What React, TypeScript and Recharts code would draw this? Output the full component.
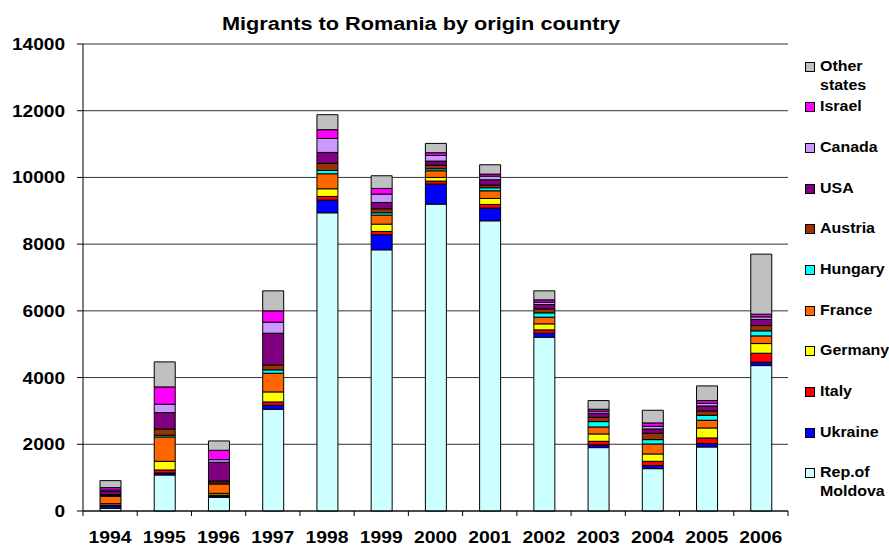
import React from 'react';
import { BarChart, Bar, XAxis, YAxis, CartesianGrid, Legend } from 'recharts';

const years = ['1994', '1995', '1996', '1997', '1998', '1999', '2000', '2001', '2002', '2003', '2004', '2005', '2006'];

const moldova = [80, 1080, 410, 3050, 8940, 7830, 9200, 8700, 5210, 1900, 1270, 1920, 4360];
const ukraine = [60, 60, 40, 120, 380, 450, 600, 380, 120, 80, 90, 100, 100];
const italy = [40, 90, 30, 100, 110, 100, 90, 110, 100, 110, 130, 170, 270];
const germany = [40, 260, 50, 300, 230, 220, 110, 180, 180, 220, 220, 300, 290];
const france = [220, 730, 280, 560, 450, 270, 200, 230, 200, 210, 300, 230, 230];
const hungary = [25, 50, 30, 100, 100, 70, 60, 90, 130, 160, 130, 150, 150];
const austria = [25, 190, 60, 150, 210, 120, 110, 80, 120, 130, 190, 130, 160];
const usa = [100, 490, 560, 950, 330, 190, 120, 160, 130, 120, 130, 150, 180];
const canada = [40, 250, 80, 330, 420, 250, 170, 110, 70, 60, 80, 80, 80];
const israel = [70, 520, 280, 340, 260, 170, 80, 60, 70, 60, 100, 80, 80];
const otherStates = [210, 750, 280, 600, 450, 380, 280, 280, 270, 260, 380, 440, 1800];

const yTicks = [0, 2000, 4000, 6000, 8000, 10000, 12000, 14000];
const title = 'Migrants to Romania by origin country';

const series = [
  { key: 'moldova', label: ['Rep.of', 'Moldova'], values: moldova, color: '#CCFFFF' },
  { key: 'ukraine', label: ['Ukraine'], values: ukraine, color: '#0000FF' },
  { key: 'italy', label: ['Italy'], values: italy, color: '#FF0000' },
  { key: 'germany', label: ['Germany'], values: germany, color: '#FFFF00' },
  { key: 'france', label: ['France'], values: france, color: '#FF6600' },
  { key: 'hungary', label: ['Hungary'], values: hungary, color: '#00FFFF' },
  { key: 'austria', label: ['Austria'], values: austria, color: '#993300' },
  { key: 'usa', label: ['USA'], values: usa, color: '#800080' },
  { key: 'canada', label: ['Canada'], values: canada, color: '#CC99FF' },
  { key: 'israel', label: ['Israel'], values: israel, color: '#FF00FF' },
  { key: 'other', label: ['Other', 'states'], values: otherStates, color: '#C0C0C0' },
];

const data = years.map((year, i) => {
  const row: Record<string, any> = { year };
  series.forEach((s) => {
    row[s.key] = s.values[i];
  });
  return row;
});

const FONT = '"Liberation Sans", Arial, sans-serif';

const YTick = (props: any) => {
  const { x, y, payload } = props;
  const s = String(payload.value);
  return (
    <text
      x={x}
      y={y}
      dy={6}
      textAnchor="end"
      fontFamily={FONT}
      fontWeight="bold"
      fontSize={16}
      fill="#000"
      textLength={s.length * 10.6}
      lengthAdjust="spacingAndGlyphs"
    >
      {s}
    </text>
  );
};

const XTick = (props: any) => {
  const { x, y, payload, index, width } = props;
  const band = (width || 705) / years.length;
  return (
    <g>
      <line x1={x - band / 2} x2={x - band / 2} y1={y} y2={y + 5} stroke="#000" strokeWidth={1} />
      {index === years.length - 1 && (
        <line x1={x + band / 2} x2={x + band / 2} y1={y} y2={y + 5} stroke="#000" strokeWidth={1} />
      )}
      <text
        x={x}
        y={y + 32}
        textAnchor="middle"
        fontFamily={FONT}
        fontWeight="bold"
        fontSize={16.5}
        fill="#000"
        textLength={43}
        lengthAdjust="spacingAndGlyphs"
      >
        {payload.value}
      </text>
    </g>
  );
};

const legendOrder = [...series].reverse();

const LegendContent = () => (
  <div style={{ position: 'relative', width: 889, height: 547 }}>
    {legendOrder.map((s, i) => {
      const top = 66 + i * 40.67 - 9.5;
      return (
        <div key={s.key} style={{ position: 'absolute', left: 805, top, height: 40 }}>
          <div
            style={{
              position: 'absolute',
              left: 0,
              top: 5,
              width: 8,
              height: 8,
              background: s.color,
              border: '1px solid #000',
            }}
          />
          <div
            style={{
              position: 'absolute',
              left: 15,
              top: 0,
              fontFamily: FONT,
              fontWeight: 'bold',
              fontSize: 14,
              lineHeight: '19px',
              color: '#000',
              whiteSpace: 'nowrap',
              transform: 'scaleX(1.14)',
              transformOrigin: 'left top',
            }}
          >
            {s.label.map((l, j) => (
              <div key={j}>{l}</div>
            ))}
          </div>
        </div>
      );
    })}
  </div>
);

export default function App() {
  return (
    <div style={{ position: 'absolute', left: 0, top: 0, width: 889, height: 547, background: '#fff' }}>
      <svg width={889} height={40} style={{ position: 'absolute', left: 0, top: 0 }}>
        <text
          x={222}
          y={30}
          fontFamily={FONT}
          fontWeight="bold"
          fontSize={18}
          fill="#000"
          textLength={398}
          lengthAdjust="spacingAndGlyphs"
        >
          {title}
        </text>
      </svg>
      <BarChart
        width={889}
        height={547}
        data={data}
        margin={{ top: 44, right: 101, bottom: 0, left: 0 }}
        barSize={21}
        style={{ position: 'absolute', left: 0, top: 0 }}
      >
        <CartesianGrid vertical={false} stroke="#333" strokeWidth={1} />
        <YAxis
          width={83}
          domain={[0, 14000]}
          ticks={yTicks}
          interval={0}
          tickSize={6}
          tickMargin={12}
          tick={<YTick />}
          axisLine={{ stroke: '#000' }}
          tickLine={{ stroke: '#000' }}
        />
        <XAxis
          dataKey="year"
          height={36}
          interval={0}
          tickSize={0}
          tickMargin={0}
          tickLine={false}
          tick={<XTick />}
          axisLine={{ stroke: '#000' }}
        />
        <Legend
          layout="horizontal"
          align="center"
          verticalAlign="middle"
          content={<LegendContent />}
          wrapperStyle={{ position: 'absolute', left: 0, top: 0, width: 889, height: 547, pointerEvents: 'none' }}
        />
        {series.map((s) => (
          <Bar
            key={s.key}
            dataKey={s.key}
            name={s.label.join(' ')}
            stackId="a"
            fill={s.color}
            stroke="#000"
            strokeWidth={1}
            isAnimationActive={false}
          />
        ))}
      </BarChart>
    </div>
  );
}
